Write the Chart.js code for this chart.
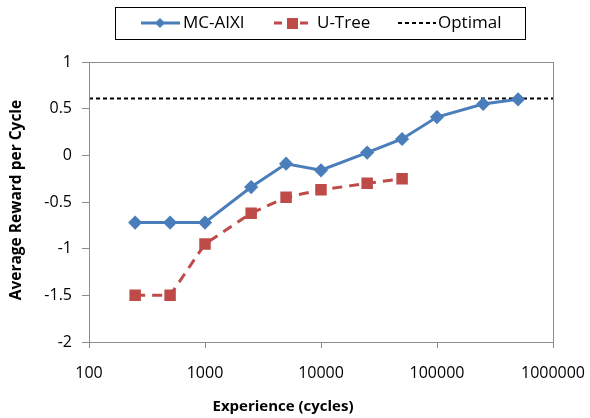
<!DOCTYPE html>
<html>
<head>
<meta charset="utf-8">
<script src="https://cdn.jsdelivr.net/npm/chart.js@4/dist/chart.umd.min.js"></script>
<style>
  html, body { margin: 0; padding: 0; background: #fff; }
  #wrap { width: 590px; height: 418px; position: relative; }
</style>
</head>
<body>
<div id="wrap"><canvas id="chart"></canvas></div>
<script>
const cycles = [250, 500, 1000, 2500, 5000, 10000, 25000, 50000, 100000, 250000, 500000];
const mcAixi = [-0.72, -0.72, -0.72, -0.34, -0.09, -0.16, 0.03, 0.175, 0.41, 0.55, 0.6];
const uTreeCycles = [250, 500, 1000, 2500, 5000, 10000, 25000, 50000];
const uTree = [-1.5, -1.5, -0.95, -0.62, -0.45, -0.37, -0.3, -0.25];
const optimalX = [100, 1000000];
const optimalValue = 0.61;
const xTicks = [100, 1000, 10000, 100000, 1000000];
const xTitle = 'Experience (cycles)';
const yTitle = 'Average Reward per Cycle';

const FONT = "'Open Sans', sans-serif";
const BLUE = '#4a7ebb';
const RED = '#be4b48';

function pts(xs, ys) {
    return xs.map((x, i) => ({ x: x, y: ys[i] }));
}

// plot box, axis titles and the boxed legend on top
const frame = {
    id: 'frame',
    afterDraw(chart) {
        const ctx = chart.ctx;
        const a = chart.chartArea;
        ctx.save();
        ctx.strokeStyle = '#8c8c8c';
        ctx.lineWidth = 1;
        ctx.strokeRect(Math.round(a.left) + 0.5, Math.round(a.top) + 0.5,
            Math.round(a.right - a.left), Math.round(a.bottom - a.top));

        // axis titles (Excel puts them a bit off centre)
        ctx.fillStyle = '#000';
        ctx.font = 'bold 15px ' + FONT;
        ctx.textAlign = 'center';
        ctx.textBaseline = 'middle';
        ctx.fillText(xTitle, 283, 407);
        ctx.save();
        ctx.translate(17, 200);
        ctx.rotate(-Math.PI / 2);
        ctx.font = 'bold 15.5px ' + FONT;
        ctx.fillText(yTitle, 0, 0);
        ctx.restore();

        // legend
        ctx.textAlign = 'left';
        ctx.strokeStyle = '#000';
        ctx.lineWidth = 1;
        ctx.strokeRect(115.5, 7.5, 410, 32);
        const cy = 23;
        ctx.font = '17px ' + FONT;

        ctx.strokeStyle = BLUE; ctx.lineWidth = 3;
        ctx.beginPath(); ctx.moveTo(141, cy); ctx.lineTo(180, cy); ctx.stroke();
        ctx.fillStyle = BLUE;
        ctx.beginPath(); ctx.moveTo(160, cy - 5); ctx.lineTo(165, cy); ctx.lineTo(160, cy + 5); ctx.lineTo(155, cy); ctx.closePath(); ctx.fill();
        ctx.fillStyle = '#000';
        ctx.fillText('MC-AIXI', 183, cy);

        ctx.strokeStyle = RED;
        ctx.setLineDash([8, 5]);
        ctx.beginPath(); ctx.moveTo(274, cy); ctx.lineTo(310, cy); ctx.stroke();
        ctx.setLineDash([]);
        ctx.fillStyle = RED;
        ctx.fillRect(287, cy - 5, 11, 11);
        ctx.fillStyle = '#000';
        ctx.fillText('U-Tree', 317, cy);

        ctx.strokeStyle = '#000'; ctx.lineWidth = 2;
        ctx.setLineDash([4, 3]);
        ctx.beginPath(); ctx.moveTo(398, cy); ctx.lineTo(436, cy); ctx.stroke();
        ctx.setLineDash([]);
        ctx.fillText('Optimal', 438, cy);
        ctx.restore();
    }
};

new Chart(document.getElementById('chart'), {
    type: 'line',
    data: {
        datasets: [
            {
                label: 'MC-AIXI',
                data: pts(cycles, mcAixi),
                borderColor: BLUE,
                backgroundColor: BLUE,
                borderWidth: 3,
                pointStyle: 'rectRot',
                pointRadius: 5,
                pointHoverRadius: 5
            },
            {
                label: 'U-Tree',
                data: pts(uTreeCycles, uTree),
                borderColor: RED,
                backgroundColor: RED,
                borderWidth: 3,
                borderDash: [10, 7],
                pointStyle: 'rect',
                pointRadius: 6,
                pointHoverRadius: 6
            },
            {
                label: 'Optimal',
                data: optimalX.map(x => ({ x: x, y: optimalValue })),
                borderColor: '#000',
                borderWidth: 2,
                borderDash: [4, 3],
                pointRadius: 0
            }
        ]
    },
    options: {
        responsive: true,
        maintainAspectRatio: false,
        animation: false,
        layout: { padding: { top: 62, right: 37, left: 0, bottom: 0 } },
        plugins: {
            legend: { display: false },
            tooltip: { enabled: false }
        },
        scales: {
            x: {
                type: 'logarithmic',
                min: 100,
                max: 1000000,
                afterBuildTicks(scale) {
                    scale.ticks = xTicks.map(v => ({ value: v }));
                },
                afterFit(scale) {
                    scale.height = 76;
                    scale.paddingLeft = 0;
                    scale.paddingRight = 0;
                },
                border: { color: '#8c8c8c' },
                grid: { drawOnChartArea: false, tickLength: 6, color: '#8c8c8c' },
                ticks: {
                    color: '#000',
                    font: { family: FONT, size: 16 },
                    padding: 16,
                    maxRotation: 0,
                    autoSkip: false,
                    callback: v => String(v)
                }
            },
            y: {
                min: -2,
                max: 1,
                afterFit(scale) {
                    scale.width = 89;
                    scale.paddingTop = 0;
                    scale.paddingBottom = 0;
                },
                border: { color: '#8c8c8c' },
                grid: { drawOnChartArea: false, tickLength: 7, color: '#8c8c8c' },
                ticks: {
                    stepSize: 0.5,
                    color: '#000',
                    font: { family: FONT, size: 16 },
                    padding: 10,
                    callback: v => String(v)
                }
            }
        }
    },
    plugins: [frame]
});
</script>
</body>
</html>
